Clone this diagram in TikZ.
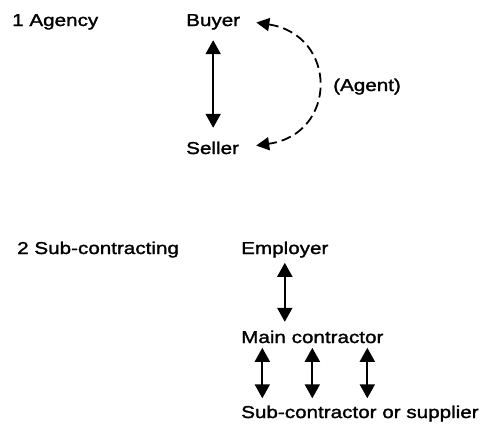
\documentclass[tikz,border=0pt]{standalone}
\usepackage{fontspec}
\setmainfont{Liberation Sans}[FakeStretch=1.2,FakeBold=1.6]
\usetikzlibrary{arrows.meta,calc}
\begin{document}
\begin{tikzpicture}[x=1pt,y=1pt,
  lbl/.style={inner sep=0pt,anchor=base west,font=\fontsize{17.2}{20}\selectfont,text height=12.5pt,text depth=3.6pt},
  dbl/.style={line width=2pt,{Triangle[length=14pt,width=15pt]}-{Triangle[length=14pt,width=15pt]}},
  dashdbl/.style={line width=1.8pt,dash pattern=on 10pt off 5pt,{Triangle[length=13pt,width=13pt]}-{Triangle[length=13pt,width=13pt]}}]
\useasboundingbox (0,0) rectangle (486,-431);
% Section 1
\node[lbl] (t1) at (12,-26) {1 Agency};
\node[lbl] (buyer) at (186,-26) {Buyer};
\node[lbl] (seller) at (186,-154) {Seller};
\node[lbl] (agent) at (333,-91) {(Agent)};
\draw[dbl,shorten <=10.4pt,shorten >=13.5pt] (buyer.south) -- (buyer.south |- seller.north);
\draw[dashdbl] ($(buyer.east)+(16,-1)$) .. controls (338,-35) and (338,-134) .. ($(seller.east)+(17,4)$);
% Section 2
\node[lbl] (t2) at (17,-254) {2 Sub-contracting};
\node[lbl] (employer) at (241,-254) {Employer};
\node[lbl] (main) at (241,-343) {Main contractor};
\node[lbl] (sub) at (241,-418) {Sub-contractor or supplier};
\draw[dbl,shorten <=5pt,shorten >=8.5pt] (employer.south) -- (employer.south |- main.north);
\foreach \dx in {-50,0,55}{
  \draw[dbl,shorten <=1pt,shorten >=7pt] ([xshift=\dx pt]main.south) -- ([xshift=\dx pt]main.south |- sub.north);
}
\end{tikzpicture}
\end{document}
